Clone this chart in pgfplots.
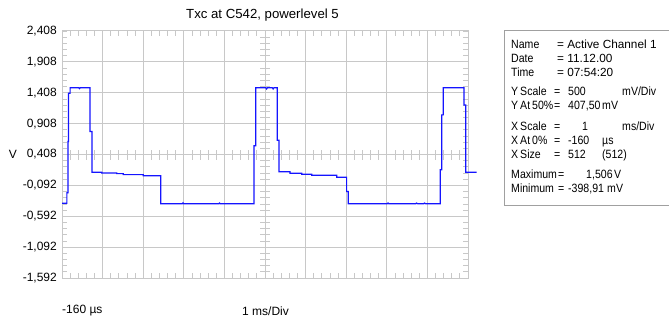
\documentclass[border=0pt]{standalone}
\usepackage{pgfplots}
\pgfplotsset{compat=1.18}
\usepackage{fontspec}
\setmainfont{Liberation Sans}
\newfontfamily\condfont[FakeStretch=0.88]{Liberation Sans}
\definecolor{gridgray}{RGB}{200,200,200}
\definecolor{boxgray}{RGB}{160,160,160}
\definecolor{trace}{RGB}{20,20,255}
\begin{document}
\fontsize{12bp}{14bp}\selectfont
\begin{tikzpicture}[x=1bp,y=1bp]
\path[use as bounding box] (0,0) rectangle (669,321);
\begin{axis}[
  at={(62bp,43bp)}, anchor=south west,
  width=406bp, height=247bp, scale only axis,
  xmin=-0.16, xmax=9.84, ymin=-1.592, ymax=2.408,
  xtick={-0.16,0.84,1.84,2.84,3.84,4.84,5.84,6.84,7.84,8.84,9.84},
  xticklabels={},
  ytick={-1.592,-1.092,-0.592,-0.092,0.408,0.908,1.408,1.908,2.408},
  yticklabels={{-1,592},{-1,092},{-0,592},{-0,092},{0,408},{0,908},{1,408},{1,908},{2,408}},
  minor x tick num=4, minor y tick num=4,
  tick align=inside, tick pos=both,
  major tick length=5bp, minor tick length=5bp,
  tick style={gridgray, line width=0.8bp},
  xmajorgrids, ymajorgrids,
  major grid style={gridgray, line width=1bp},
  axis line style={gridgray, line width=1bp},
  yticklabel style={font=\fontsize{12bp}{14bp}\selectfont, xshift=-1bp},
  clip=false,
]
\addplot[trace, line width=1.2bp, mark=none, line join=miter] coordinates {
(-0.16,-0.38) (-0.04,-0.38) (-0.04,-0.21) (-0.01,-0.21) (-0.01,0.62) (0.0,0.62)
(0.0,1.40) (0.04,1.40) (0.04,1.49) (0.25,1.49) (0.27,1.475) (0.29,1.49)
(0.53,1.49) (0.53,0.78) (0.58,0.78) (0.58,0.12) (0.818,0.12) (0.818,0.109)
(1.187,0.109) (1.187,0.098) (1.35,0.098) (1.35,0.082) (1.843,0.082) (1.843,0.065)
(2.27,0.065) (2.27,-0.39) (2.80,-0.39) (2.82,-0.375) (2.84,-0.39) (3.7,-0.39)
(3.72,-0.378) (3.74,-0.39) (4.57,-0.39) (4.57,0.55) (4.61,0.55) (4.61,1.49)
(4.86,1.49) (4.88,1.47) (4.90,1.49) (5.02,1.49) (5.04,1.47) (5.06,1.49)
(5.14,1.49) (5.14,0.64) (5.185,0.64) (5.185,0.13) (5.456,0.13) (5.456,0.104)
(5.744,0.104) (5.744,0.088) (5.99,0.088) (5.99,0.071) (6.606,0.071) (6.606,0.04)
(6.85,0.04) (6.85,-0.19) (6.89,-0.19) (6.89,-0.39) (7.85,-0.39) (7.87,-0.378)
(7.89,-0.39) (8.55,-0.39) (8.57,-0.378) (8.60,-0.39) (8.75,-0.39) (8.77,-0.378)
(8.80,-0.39) (9.158,-0.39) (9.158,0.16) (9.192,0.16) (9.192,1.05) (9.232,1.05)
(9.232,1.49) (9.741,1.49) (9.741,1.21) (9.783,1.21) (9.783,0.12) (10.054,0.12)
};
\end{axis}
% centre cross minor ticks
\foreach \i in {1,...,49} {
  \draw[gridgray, line width=0.8bp] ({62+\i*8.12},161.5) -- ++(0,10);
}
\foreach \j in {1,...,39} {
  \draw[gridgray, line width=0.8bp] (260,{43+\j*6.175}) -- ++(10,0);
}
% titles and labels
\node[anchor=center] at (262.5,306) {\fontsize{13.2bp}{14bp}\selectfont Txc at C542, powerlevel 5};
\node[anchor=center] at (13,166.5) {V};
\node[anchor=west, inner sep=0] at (62,10) {-160 µs};
\node[anchor=west, inner sep=0] at (242,10) {1 ms/Div};
% info panel
\draw[boxgray, line width=1bp] (669,291) -- (504,291) -- (504,116) -- (669,116);
\begin{scope}[every node/.style={anchor=base west, inner sep=0, font=\condfont\fontsize{12bp}{14bp}\selectfont}]
\node at (511,{321-44-4.3}) {Name};
\node[font=\fontsize{11.8bp}{14bp}\selectfont] at (557,{321-44-4.3}) {= Active Channel 1};
\node at (511,{321-58-4.3}) {Date};
\node[font=\fontsize{11.8bp}{14bp}\selectfont] at (557,{321-58-4.3}) {= 11.12.00};
\node at (511,{321-72-4.3}) {Time};
\node[font=\fontsize{11.8bp}{14bp}\selectfont] at (557,{321-72-4.3}) {= 07:54:20};
\node at (511,{321-91-4.3}) {Y\,Scale};
\node at (554,{321-91-4.3}) {=};
\node at (568,{321-91-4.3}) {500};
\node at (622,{321-91-4.3}) {mV/Div};
\node at (511,{321-105-4.3}) {Y\,At\,50\%};
\node at (554,{321-105-4.3}) {=};
\node at (568,{321-105-4.3}) {407,50};
\node at (602,{321-105-4.3}) {mV};
\node at (511,{321-126-4.3}) {X\,Scale};
\node at (554,{321-126-4.3}) {=};
\node at (582,{321-126-4.3}) {1};
\node at (622,{321-126-4.3}) {ms/Div};
\node at (511,{321-140-4.3}) {X\,At\,0\%};
\node at (554,{321-140-4.3}) {=};
\node at (568,{321-140-4.3}) {-160};
\node at (602,{321-140-4.3}) {µs};
\node at (511,{321-154-4.3}) {X\,Size};
\node at (554,{321-154-4.3}) {=};
\node at (568,{321-154-4.3}) {512};
\node at (602,{321-154-4.3}) {(512)};
\node at (511,{321-174-4.3}) {Maximum};
\node at (558,{321-174-4.3}) {=};
\node at (586,{321-174-4.3}) {1,506};
\node at (614,{321-174-4.3}) {V};
\node at (511,{321-188-4.3}) {Minimum};
\node at (558,{321-188-4.3}) {=};
\node at (568,{321-188-4.3}) {-398,91};
\node at (607,{321-188-4.3}) {mV};
\end{scope}
\end{tikzpicture}
\end{document}
